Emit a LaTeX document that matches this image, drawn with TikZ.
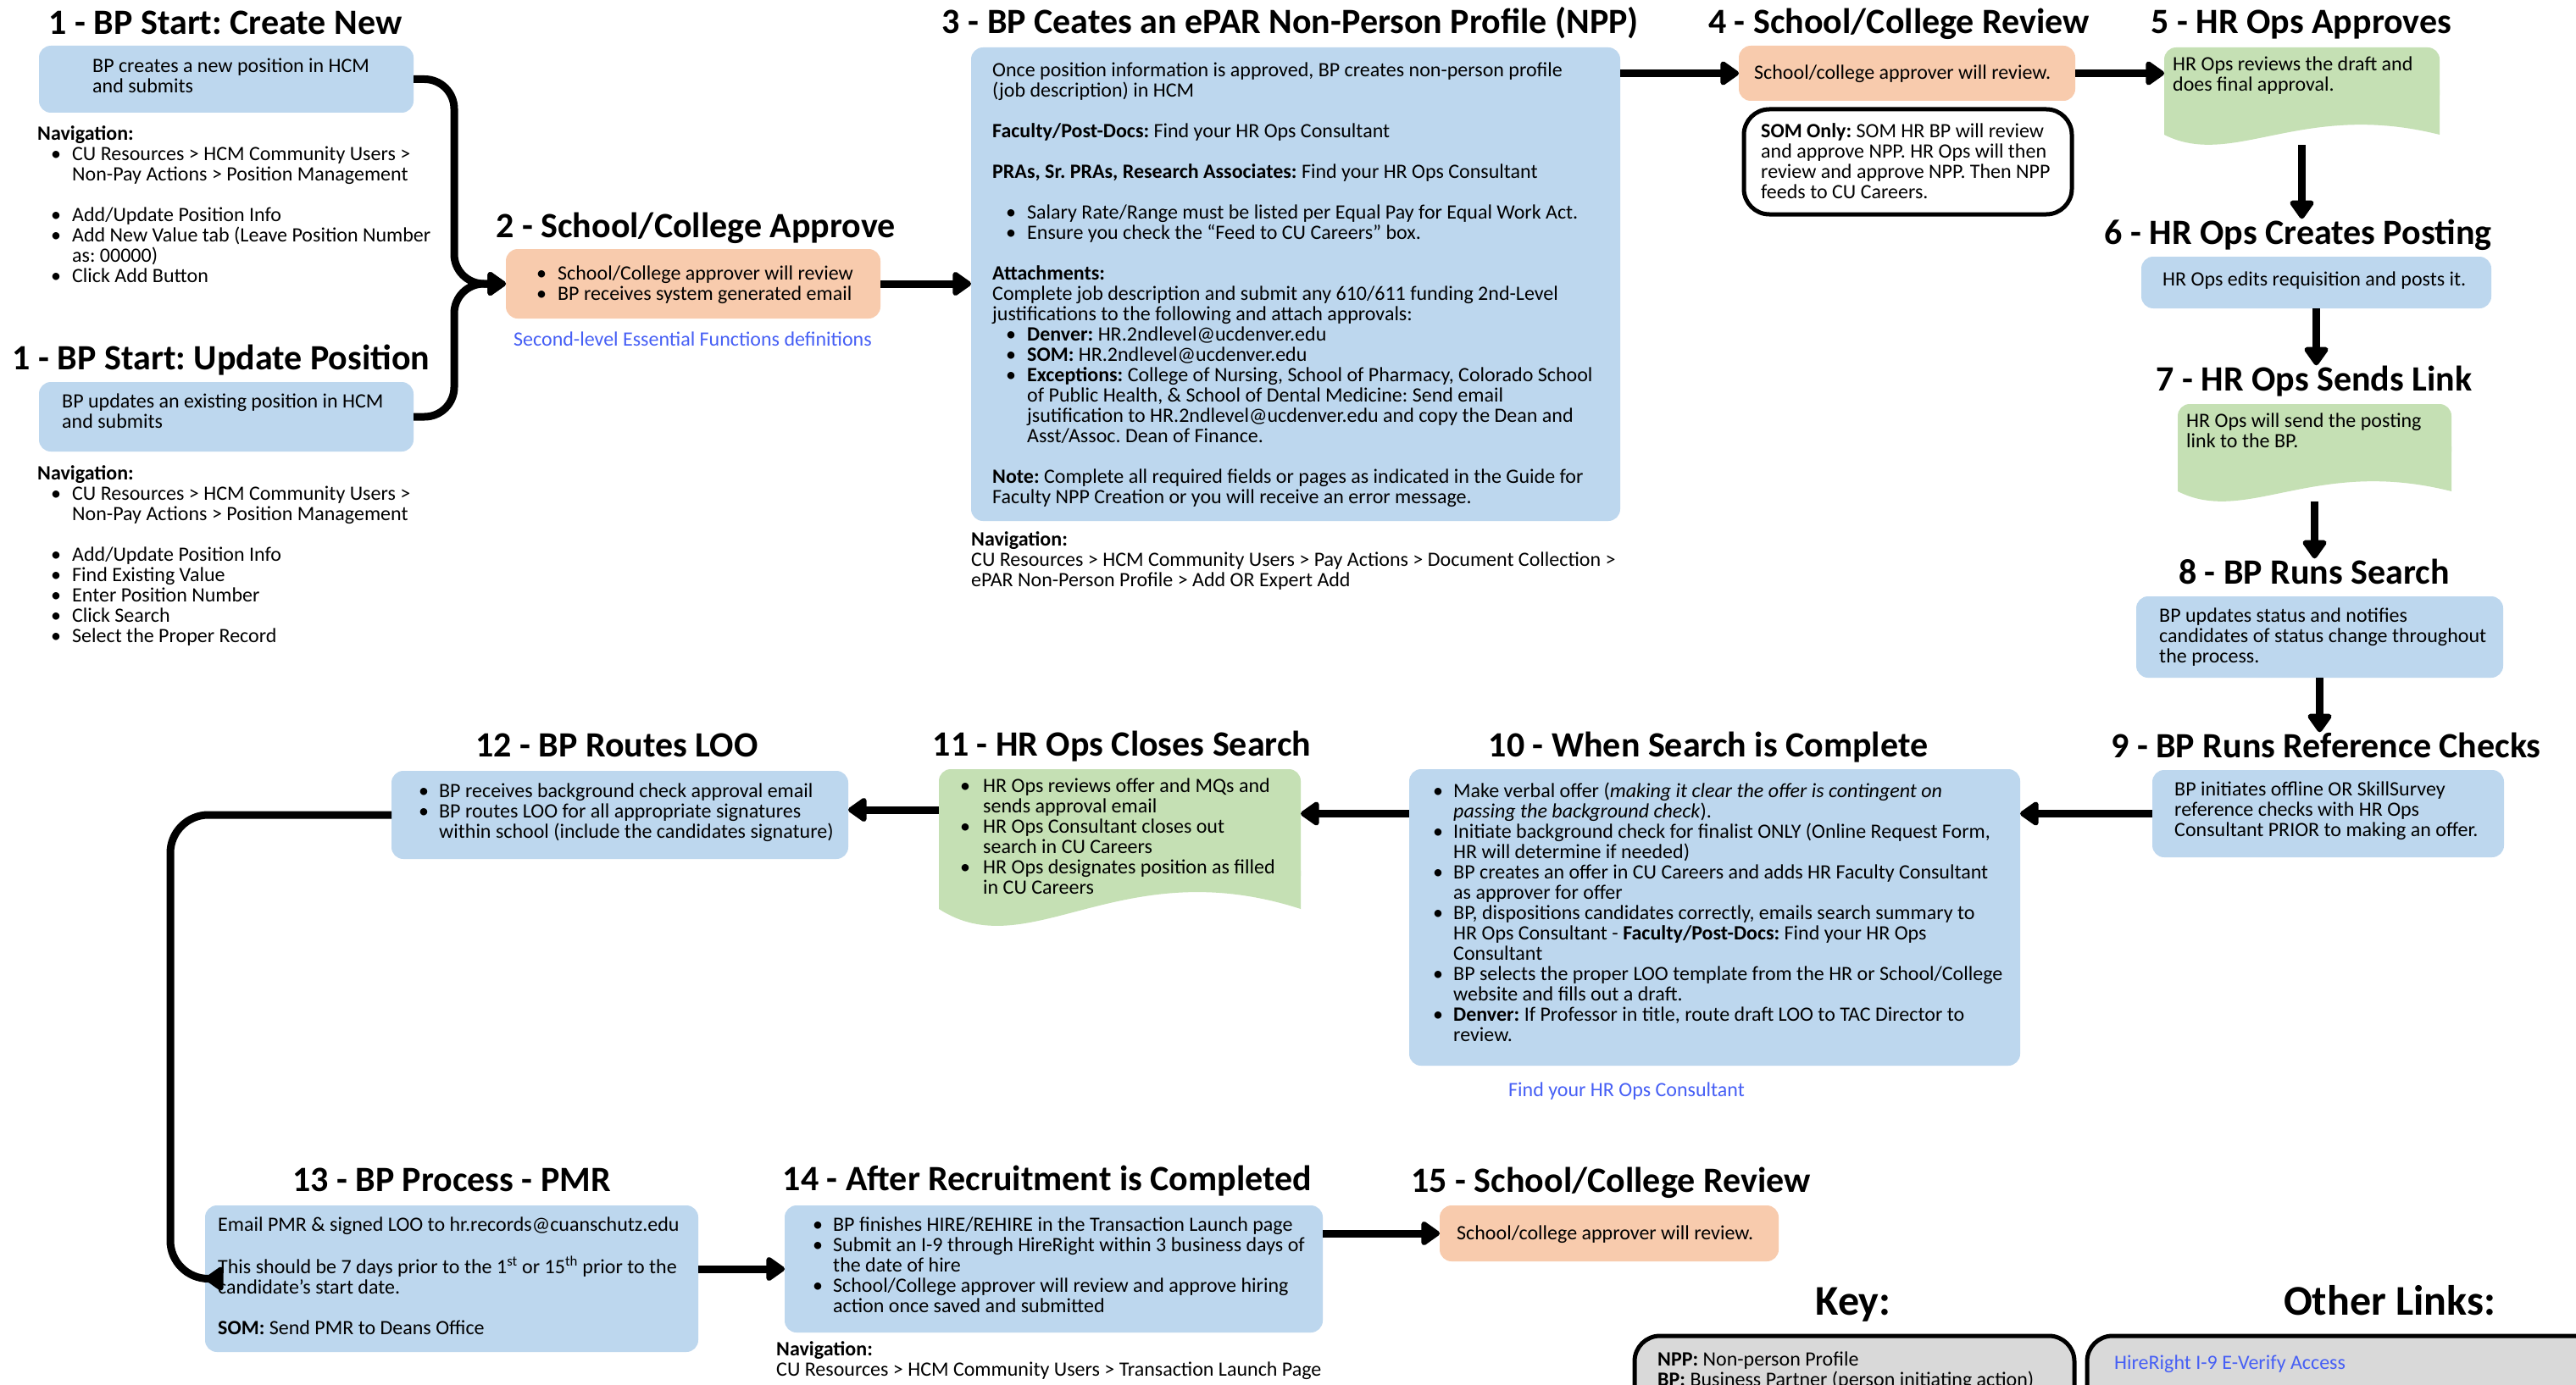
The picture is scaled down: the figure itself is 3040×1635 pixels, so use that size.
\documentclass[tikz,border=0pt]{standalone}
\usepackage{fontspec}
\setmainfont{Carlito}
\frenchspacing
\usetikzlibrary{arrows.meta,fit,calc,backgrounds}
\definecolor{bluef}{HTML}{BDD7EE}
\definecolor{orangef}{HTML}{F8CBAD}
\definecolor{greenf}{HTML}{C5E0B4}
\definecolor{grayf}{HTML}{D9D9D9}
\definecolor{linkc}{RGB}{70,95,245}
\newcommand\bu{\hspace*{16pt}\makebox[25pt][l]{\textbullet}}
\newcommand\ind{\hspace*{41pt}}
\newcommand\bz[1][24pt]{\makebox[#1][l]{\textbullet}}
\newcommand\docfill[4]{%
 \fill[greenf, rounded corners=14pt] (#1.north west) rectangle ([yshift=45pt]#1.south east);
 \fill[greenf] ([yshift=65pt]#1.south west) -- ([yshift=65pt]#1.south east) -- ([yshift=#2pt]#1.south east)
   .. controls ($(#1.south west)!0.5!(#1.south east)+(0pt,#3pt)$) and ($(#1.south west)!0.25!(#1.south east)+(0pt,#4pt)$) .. ([yshift=#2pt]#1.south west) -- cycle;}
\tikzset{
 shp/.style={inner sep=0pt, outer sep=0pt},
 bluebox/.style={shp, fill=bluef, rounded corners=14pt},
 orangebox/.style={shp, fill=orangef, rounded corners=14pt},
 outlinebox/.style={shp, draw=black, line width=5pt, fill=white, rounded corners=30pt},
 graybox/.style={shp, draw=black, line width=5pt, fill=grayf, rounded corners=30pt},
 txt/.style={anchor=north west, yshift=20pt, inner sep=0pt, align=left, font=\fontsize{24}{24}\selectfont, execute at begin node={\rule{0pt}{20pt}}},
 lnk/.style={txt, text=linkc},
 ttl/.style={anchor=base, inner sep=0pt, font=\fontsize{42}{50}\selectfont\bfseries},
 bigttl/.style={anchor=base, inner sep=0pt, font=\fontsize{50}{60}\selectfont\bfseries},
 conn/.style={line width=9pt, -{Triangle[length=24pt,width=32pt,round]}},
}
\begin{document}
\begin{tikzpicture}[x=1pt,y=-1pt]
\useasboundingbox (0,0) rectangle (3040,1635);
\clip (0,0) rectangle (3040,1635);

% titles
\node[ttl] (t1a) at (266,41) {1 - BP Start: Create New};
\node[ttl] (t1b) at (261,436) {1 - BP Start: Update Position};
\node[ttl] (t2) at (821,280) {2 - School/College Approve};
\node[ttl] (t3) at (1523,40) {3 - BP Ceates an ePAR Non-Person Profile (NPP)};
\node[ttl] (t4) at (2241,40) {4 - School/College Review};
\node[ttl] (t5) at (2716,40) {5 - HR Ops Approves};
\node[ttl] (t6) at (2712,288) {6 - HR Ops Creates Posting};
\node[ttl] (t7) at (2731,461) {7 - HR Ops Sends Link};
\node[ttl] (t8) at (2731,689) {8 - BP Runs Search};
\node[ttl] (t9) at (2745,894) {9 - BP Runs Reference Checks};
\node[ttl] (t10) at (2016,893) {10 - When Search is Complete};
\node[ttl] (t11) at (1324,892) {11 - HR Ops Closes Search};
\node[ttl] (t12) at (728,893) {12 - BP Routes LOO};
\node[ttl] (t13) at (533,1406) {13 - BP Process - PMR};
\node[ttl] (t14) at (1236,1405) {14 - After Recruitment is Completed};
\node[ttl] (t15) at (1901,1407) {15 - School/College Review};
\node[bigttl] (tkey) at (2187,1552) {Key:};
\node[bigttl] (tlinks) at (2820,1552) {Other Links:};

% boxes
\node[bluebox, fit={(46,54) (488,133)}] (b1a) {};
\node[bluebox, fit={(46,451) (488,533)}] (b1b) {};
\node[orangebox, fit={(597,294) (1039,376)}] (b2) {};
\node[bluebox, fit={(1146,56) (1912,615)}] (b3) {};
\node[orangebox, fit={(2052,54) (2449,119)}] (b4) {};
\node[outlinebox, fit={(2058,129) (2445,253)}] (som) {};
\node[shp, fit={(2554,56) (2879,171)}] (b5) {};
\node[bluebox, fit={(2527,303) (2940,364)}] (b6) {};
\node[shp, fit={(2570,477) (2893,592)}] (b7) {};
\node[bluebox, fit={(2521,704) (2954,800)}] (b8) {};
\node[bluebox, fit={(2540,909) (2955,1012)}] (b9) {};
\node[bluebox, fit={(1663,908) (2384,1258)}] (b10) {};
\node[shp, fit={(1108,908) (1535,1093)}] (b11) {};
\node[bluebox, fit={(462,910) (1001,1014)}] (b12) {};
\node[bluebox, fit={(242,1423) (824,1596)}] (b13) {};
\node[bluebox, fit={(926,1423) (1561,1573)}] (b14) {};
\node[orangebox, fit={(1699,1423) (2099,1489)}] (b15) {};
\node[graybox, fit={(1929,1577) (2448,1720)}] (key) {};
\node[graybox, fit={(2463,1577) (3120,1720)}] (links) {};

\begin{scope}[on background layer]
 \fill[white] (0,0) rectangle (3040,1635);
 \docfill{b5}{12}{53}{-29}
 \docfill{b7}{12}{53}{-29}
 \docfill{b11}{20}{89}{-49}
\end{scope}

% texts
\node[txt] (b1a-t) at (109,88.5) {BP creates a new position in HCM\\and submits};
\node[txt] (nav1a) at (44,168) {\textbf{Navigation:}\\
\bu CU Resources > HCM Community Users >\\
\ind Non-Pay Actions > Position Management\\[24pt]
\bu Add/Update Position Info\\
\bu Add New Value tab (Leave Position Number\\
\ind as: 00000)\\
\bu Click Add Button};
\node[txt] (b1b-t) at (73,485) {BP updates an existing position in HCM\\and submits};
\node[txt] (nav1b) at (44,569) {\textbf{Navigation:}\\
\bu CU Resources > HCM Community Users >\\
\ind Non-Pay Actions > Position Management\\[24pt]
\bu Add/Update Position Info\\
\bu Find Existing Value\\
\bu Enter Position Number\\
\bu Click Search\\
\bu Select the Proper Record};
\node[txt] (b2-t) at (633,334) {\bz[25pt]School/College approver will review\\
\bz[25pt]BP receives system generated email};
\node[lnk] (l2) at (606,408) {Second-level Essential Functions definitions};
\node[txt] (b3-t) at (1171,94) {Once position information is approved, BP creates non-person profile\\
(job description) in HCM\\[24pt]
\textbf{Faculty/Post-Docs:} Find your HR Ops Consultant\\[24pt]
\textbf{PRAs, Sr. PRAs, Research Associates:} Find your HR Ops Consultant\\[24pt]
\bu Salary Rate/Range must be listed per Equal Pay for Equal Work Act.\\
\bu Ensure you check the “Feed to CU Careers” box.\\[24pt]
\textbf{Attachments:}\\
Complete job description and submit any 610/611 funding 2nd-Level\\
justifications to the following and attach approvals:\\
\bu \textbf{Denver:} HR.2ndlevel@ucdenver.edu\\
\bu \textbf{SOM:} HR.2ndlevel@ucdenver.edu\\
\bu \textbf{Exceptions:} College of Nursing, School of Pharmacy, Colorado School\\
\ind of Public Health, \& School of Dental Medicine: Send email\\
\ind jsutification to HR.2ndlevel@ucdenver.edu and copy the Dean and\\
\ind Asst/Assoc. Dean of Finance.\\[24pt]
\textbf{Note:} Complete all required fields or pages as indicated in the Guide for\\
Faculty NPP Creation or you will receive an error message.};
\node[txt] (nav3) at (1146,647) {\textbf{Navigation:}\\
CU Resources > HCM Community Users > Pay Actions > Document Collection >\\
ePAR Non-Person Profile > Add OR Expert Add};
\node[txt] (b4-t) at (2070,93) {School/college approver will review.};
\node[txt] (som-t) at (2078,165) {\textbf{SOM Only:} SOM HR BP will review\\
and approve NPP. HR Ops will then\\
review and approve NPP. Then NPP\\
feeds to CU Careers.};
\node[txt] (b5-t) at (2564,87) {HR Ops reviews the draft and\\does final approval.};
\node[txt] (b6-t) at (2552,337) {HR Ops edits requisition and posts it.};
\node[txt] (b7-t) at (2580,508) {HR Ops will send the posting\\link to the BP.};
\node[txt] (b8-t) at (2548,738) {BP updates status and notifies\\candidates of status change throughout\\the process.};
\node[txt] (b9-t) at (2566,943) {BP initiates offline OR SkillSurvey\\reference checks with HR Ops\\Consultant PRIOR to making an offer.};
\node[txt] (b10-t) at (1691,944) {\bz Make verbal offer (\textit{making it clear the offer is contingent on}\\
\hspace*{24pt}\textit{passing the background check}).\\
\bz Initiate background check for finalist ONLY (Online Request Form,\\
\hspace*{24pt}HR will determine if needed)\\
\bz BP creates an offer in CU Careers and adds HR Faculty Consultant\\
\hspace*{24pt}as approver for offer\\
\bz BP, dispositions candidates correctly, emails search summary to\\
\hspace*{24pt}HR Ops Consultant - \textbf{Faculty/Post-Docs:} Find your HR Ops\\
\hspace*{24pt}Consultant\\
\bz BP selects the proper LOO template from the HR or School/College\\
\hspace*{24pt}website and fills out a draft.\\
\bz \textbf{Denver:} If Professor in title, route draft LOO to TAC Director to\\
\hspace*{24pt}review.};
\node[lnk] (l10) at (1780,1294) {Find your HR Ops Consultant};
\node[txt] (b11-t) at (1133,939) {\bz[27pt]HR Ops reviews offer and MQs and\\
\hspace*{27pt}sends approval email\\
\bz[27pt]HR Ops Consultant closes out\\
\hspace*{27pt}search in CU Careers\\
\bz[27pt]HR Ops designates position as filled\\
\hspace*{27pt}in CU Careers};
\node[txt] (b12-t) at (494,945) {\bz BP receives background check approval email\\
\bz BP routes LOO for all appropriate signatures\\
\hspace*{24pt}within school (include the candidates signature)};
\node[txt] (b13-t) at (257,1457) {Email PMR \& signed LOO to hr.records@cuanschutz.edu\\[24pt]
This should be 7 days prior to the 1\textsuperscript{st} or 15\textsuperscript{th} prior to the\\
candidate’s start date.\\[24pt]
\textbf{SOM:} Send PMR to Deans Office};
\node[txt] (b14-t) at (959,1457) {\bz BP finishes HIRE/REHIRE in the Transaction Launch page\\
\bz Submit an I-9 through HireRight within 3 business days of\\
\hspace*{24pt}the date of hire\\
\bz School/College approver will review and approve hiring\\
\hspace*{24pt}action once saved and submitted};
\node[txt] (nav14) at (916,1603) {\textbf{Navigation:}\\
CU Resources > HCM Community Users > Transaction Launch Page};
\node[txt] (b15-t) at (1719,1463) {School/college approver will review.};
\node[txt] (key-t) at (1956,1616) {\textbf{NPP:} Non-person Profile\\
\textbf{BP:} Business Partner (person initiating action)};
\node[lnk] (links-t) at (2495,1616) {HireRight I-9 E-Verify Access};

% connectors
\coordinate (j) at (536,335);
\draw[conn, rounded corners=35pt] (b1a.east) -| (j) -- (b2.west);
\draw[conn, rounded corners=35pt] (b1b.east) -| (j) -- (b2.west);
\draw[conn] (b2.east) -- (b2.east -| b3.west);
\draw[conn] (b3.east |- b4.west) -- (b4.west);
\draw[conn] (b4.east) -- (b4.east -| b5.west);
\draw[conn] (b5.south) -- (b5.south |- t6.north);
\draw[conn] (b6.south) -- (b6.south |- t7.north);
\draw[conn] (b7.south) -- (b7.south |- t8.north);
\draw[conn] (b8.south) -- (b8.south |- t9.north);
\draw[conn] (b9.west) -- (b9.west -| b10.east);
\draw[conn] (b10.west |- b9.west) -- (b11.east |- b9.west);
\draw[conn] (b11.west |- 0,956) -- (b12.east |- 0,956);
\draw[conn] (b12.west) [rounded corners=45pt] -| ([xshift=-41pt]b13.west) [rounded corners=20pt] -- (b13.west);
\draw[conn] (b13.east |- b14.west) -- (b14.west);
\draw[conn] (b14.east |- b15.west) -- (b15.west);
\end{tikzpicture}
\end{document}
